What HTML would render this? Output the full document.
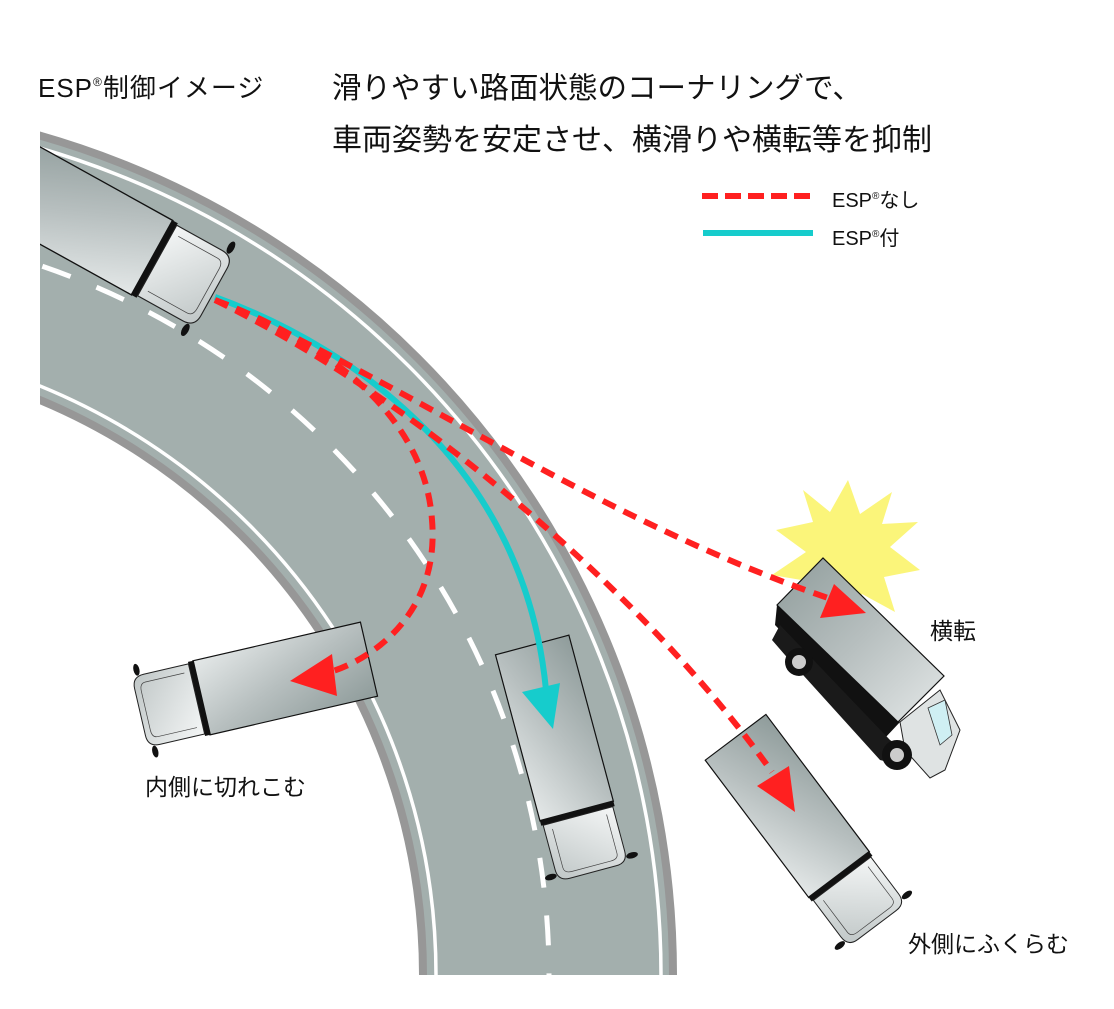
<!DOCTYPE html>
<html><head><meta charset="utf-8"><style>
html,body{margin:0;padding:0;background:#fff;width:1114px;height:1009px;overflow:hidden;}
svg{display:block;}
text{font-family:"Liberation Sans","Noto Sans CJK JP",sans-serif;fill:#111;}
</style></head><body>
<svg width="1114" height="1009" viewBox="0 0 1114 1009" xmlns="http://www.w3.org/2000/svg">
<defs>
<clipPath id="rc"><rect x="40" y="0" width="1100" height="975"/></clipPath>
<clipPath id="tc"><rect x="40" y="0" width="1100" height="1009"/></clipPath>
<linearGradient id="bx" x1="0" y1="0" x2="1" y2="1">
<stop offset="0" stop-color="#8f9c9b"/><stop offset="0.5" stop-color="#b7bfbf"/><stop offset="1" stop-color="#e4e8e8"/></linearGradient>
<linearGradient id="cb" x1="0" y1="0" x2="1" y2="1">
<stop offset="0" stop-color="#f4f6f6"/><stop offset="1" stop-color="#bfc6c6"/></linearGradient>
<g id="truck">
<rect x="-235" y="-38" width="172" height="76" fill="url(#bx)" stroke="#111" stroke-width="1.2"/>
<rect x="-64" y="-38" width="6" height="76" fill="#111"/>
<path d="M-58,-36 L-12,-36 Q0,-36 0,-24 L0,24 Q0,36 -12,36 L-58,36 Z" fill="url(#cb)" stroke="#222" stroke-width="1"/>
<path d="M-52,-28 L-12,-28 Q-6,-28 -6,-20 L-6,20 Q-6,28 -12,28 L-52,28" fill="none" stroke="#444" stroke-width="0.7"/>
<ellipse cx="-6" cy="-42" rx="3" ry="6" fill="#111"/>
<ellipse cx="-6" cy="42" rx="3" ry="6" fill="#111"/>
</g>
</defs>

<!-- road -->
<g clip-path="url(#rc)">
<circle cx="-200" cy="975" r="748" fill="none" stroke="#979797" stroke-width="258"/>
<circle cx="-200" cy="975" r="748" fill="none" stroke="#a3afad" stroke-width="242"/>
<circle cx="-200" cy="975" r="861" fill="none" stroke="#fff" stroke-width="3.5"/>
<circle cx="-200" cy="975" r="636" fill="none" stroke="#fff" stroke-width="3.5"/>
<circle cx="-200" cy="975" r="749" fill="none" stroke="#fff" stroke-width="5" stroke-dasharray="30 28" stroke-dashoffset="-6"/>
</g>

<!-- trucks -->
<g clip-path="url(#tc)">
<use href="#truck" transform="translate(214,292) rotate(29) scale(1.12)"/>
</g>
<use href="#truck" transform="translate(140,712) rotate(167)"/>
<use href="#truck" transform="translate(593,872) rotate(75)"/>
<use href="#truck" transform="translate(877,925) rotate(53)"/>

<!-- starburst -->
<polygon points="848,480 860,514 892,492 882,524 918,522 890,547 920,570 884,577 895,612 862,594 850,627 836,597 803,614 813,582 772,575 806,552 776,530 813,522 803,490 830,512" fill="#fbf57a"/>

<!-- flipped truck -->
<g>
<polygon points="777,605 775,625 885,738 900,722" fill="#111"/>
<polygon points="780,625 890,740 905,750 900,765 880,760 785,655 772,640" fill="#1a1a1a"/>
<polygon points="777,605 823,558 944,676 898,722" fill="url(#bx)" stroke="#111" stroke-width="1.2"/>
<polygon points="900,722 940,690 960,730 945,770 930,778 905,750" fill="#dfe3e3" stroke="#222" stroke-width="1"/>
<polygon points="928,708 945,700 952,735 940,745" fill="#cfeff3" stroke="#333" stroke-width="0.8"/>
<circle cx="799" cy="662" r="14" fill="#111"/><circle cx="799" cy="662" r="7" fill="#ccc"/>
<circle cx="897" cy="755" r="15" fill="#111"/><circle cx="897" cy="755" r="7" fill="#ccc"/>
</g>

<!-- cyan path -->
<path d="M215,297 C360,350 525,470 546,690" fill="none" stroke="#16cccc" stroke-width="6"/>
<polygon points="522,692 560,683 553,729" fill="#16cccc"/>

<!-- red paths -->
<g fill="none" stroke="#ff2020" stroke-width="6" stroke-dasharray="14 9">
<path d="M215,300 C335,345 425,420 432,520 C440,615 370,660 330,672"/>
<path d="M215,300 C400,380 600,520 828,598"/>
<path d="M215,300 C420,400 650,600 772,772"/>
</g>
<polygon points="332,654 337,696 290,681" fill="#ff2020"/>
<polygon points="834,584 820,618 866,613" fill="#ff2020"/>
<polygon points="757,786 789,766 795,812" fill="#ff2020"/>

<!-- texts -->
<text x="38" y="97" font-size="26" letter-spacing="1">ESP<tspan font-size="12" dy="-11">®</tspan><tspan dy="11">制御イメージ</tspan></text>
<text x="332" y="98" font-size="29.5">滑りやすい路面状態のコーナリングで、</text>
<text x="332" y="150" font-size="30">車両姿勢を安定させ、横滑りや横転等を抑制</text>
<line x1="702" y1="196" x2="813" y2="196" stroke="#ff2020" stroke-width="6" stroke-dasharray="16 7"/>
<line x1="703" y1="233" x2="813" y2="233" stroke="#16cccc" stroke-width="6"/>
<text x="832" y="207" font-size="20">ESP<tspan font-size="10" dy="-8">®</tspan><tspan dy="8">なし</tspan></text>
<text x="832" y="245" font-size="20">ESP<tspan font-size="10" dy="-8">®</tspan><tspan dy="8">付</tspan></text>
<text x="930" y="639" font-size="23">横転</text>
<text x="145" y="795" font-size="23">内側に切れこむ</text>
<text x="908" y="952" font-size="23">外側にふくらむ</text>
</svg>
</body></html>
